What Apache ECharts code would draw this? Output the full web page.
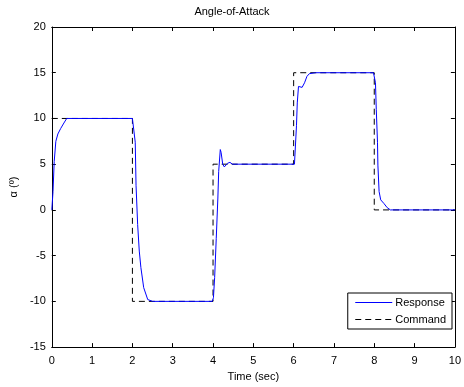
<!DOCTYPE html>
<html><head><meta charset="utf-8">
<script src="https://cdn.jsdelivr.net/npm/echarts@6/dist/echarts.min.js"></script>
<style>html,body{margin:0;padding:0;background:#fff}#c{width:464px;height:387px}</style>
</head><body><div id="c"></div>
<script>
var responseT = [0,0.03,0.06,0.1,0.15,0.22,0.3,0.37,2.0,2.03,2.07,2.09,2.13,2.17,2.21,2.28,2.38,2.5,3.98,4.01,4.04,4.08,4.12,4.14,4.18,4.2,4.24,4.28,4.36,4.42,4.48,6.02,6.05,6.07,6.09,6.12,6.16,6.21,6.27,6.33,6.39,6.55,7.98,8.01,8.03,8.05,8.08,8.09,8.12,8.16,8.24,8.32,8.4,10];
var responseV = [0,2,5.3,7.5,8.3,8.9,9.5,10,10,9.8,7.4,2.7,-1.6,-4.5,-6.3,-8.5,-9.8,-10,-10,-9.6,-7.4,-3.1,1.3,4.2,6.6,6.3,5.0,4.7,5.1,5.2,5.0,5.0,5.2,9.2,11.7,13.5,13.7,13.4,13.9,14.6,14.9,15,15,14.8,13.9,11,7.4,4.9,2.0,1.1,0.7,0.25,0,0];
var commandT = [0,2,2,4,4,6,6,8,8,10];
var commandV = [10,10,-10,-10,5,5,15,15,0,0];
var xTicks = [0,1,2,3,4,5,6,7,8,9,10];
var yTicks = [-15,-10,-5,0,5,10,15,20];

function pairs(a,b){return a.map(function(v,i){return [v,b[i]];});}
var font = 'Liberation Sans, Arial, sans-serif';
var chart = echarts.init(document.getElementById('c'), null, {renderer:'canvas'});
var axisLine = {show:true, onZero:false, lineStyle:{color:'#000', width:1}};
var tick = {show:true, inside:true, length:4, lineStyle:{color:'#000'}};
chart.setOption({
  animation:false,
  backgroundColor:'#fff',
  title:{text:'Angle-of-Attack', left:'center', top:1, textStyle:{fontFamily:font, fontSize:11, fontWeight:'normal', color:'#000'}},
  grid:{left:49, right:4, top:27, bottom:37},
  legend:{
    orient:'vertical', right:12, bottom:58,
    data:['Response','Command'],
    backgroundColor:'#fff', borderColor:'#000', borderWidth:1,
    padding:[4,6,4,7], itemGap:6, itemWidth:37, itemHeight:10,
    itemStyle:{opacity:0},
    lineStyle:{width:1},
    textStyle:{fontFamily:font, fontSize:11, color:'#000', padding:[0,0,0,-2]}
  },
  xAxis:[{
    type:'value', min:0, max:10, interval:1, position:'bottom',
    axisLine:axisLine, axisTick:tick, splitLine:{show:false},
    axisLabel:{fontFamily:font, fontSize:11, color:'#000', margin:8},
    name:'Time (sec)', nameLocation:'middle', nameGap:20,
    nameTextStyle:{fontFamily:font, fontSize:11, color:'#000'}
  },{
    type:'value', min:0, max:10, interval:1, position:'top',
    axisLine:axisLine, axisTick:tick, axisLabel:{show:false}, splitLine:{show:false}
  }],
  yAxis:[{
    type:'value', min:-15, max:20, interval:5, position:'left',
    axisLine:axisLine, axisTick:tick, splitLine:{show:false},
    axisLabel:{fontFamily:font, fontSize:11, color:'#000', margin:6},
    name:'α (º)', nameLocation:'middle', nameGap:31, nameRotate:90,
    nameTextStyle:{fontFamily:font, fontSize:11, color:'#000'}
  },{
    type:'value', min:-15, max:20, interval:5, position:'right',
    axisLine:axisLine, axisTick:tick, axisLabel:{show:false}, splitLine:{show:false}
  }],
  series:[{
    name:'Response', type:'line', data:pairs(responseT,responseV),
    symbol:'none', lineStyle:{color:'#0000ff', width:1}, itemStyle:{color:'#0000ff'}, z:3
  },{
    name:'Command', type:'line', data:pairs(commandT,commandV),
    symbol:'none', lineStyle:{color:'#000', width:1, type:[6,4]}, itemStyle:{color:'#000'}, z:2
  }]
});
</script></body></html>
